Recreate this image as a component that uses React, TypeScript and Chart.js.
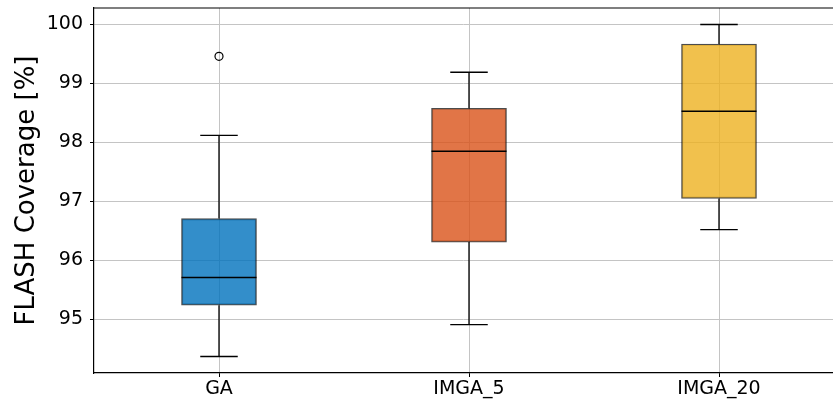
import React, { useEffect, useRef } from "react";
import { Chart, registerables } from "chart.js";

Chart.register(...registerables);

// Box-plot summary per algorithm
const categories = ["GA", "IMGA_5", "IMGA_20"];
const positions = [1, 2, 3];
const lowerWhisker = [94.37, 94.91, 96.52];
const q1 = [95.24, 96.31, 97.05];
const median = [95.71, 97.85, 98.53];
const q3 = [96.71, 98.58, 99.67];
const upperWhisker = [98.12, 99.19, 100.0];
const outlierPositions = [1];
const outlierValues = [99.46];
const yTicks = [95, 96, 97, 98, 99, 100];

const boxColors = [
  "rgba(0,114,189,0.8)",
  "rgba(217,83,25,0.8)",
  "rgba(237,177,32,0.8)",
];

const BOX_WIDTH = 0.3; // in x units
const CAP_WIDTH = 0.15;
const FONT = "'DejaVu Sans', sans-serif";

const whiskerPlugin = {
  id: "whiskers",
  afterDatasetsDraw(chart: any) {
    const { ctx } = chart;
    const x = chart.scales.x;
    const y = chart.scales.y;
    ctx.save();
    positions.forEach((p, i) => {
      const cx = x.getPixelForValue(p);
      const capL = x.getPixelForValue(p - CAP_WIDTH / 2);
      const capR = x.getPixelForValue(p + CAP_WIDTH / 2);
      const boxL = x.getPixelForValue(p - BOX_WIDTH / 2);
      const boxR = x.getPixelForValue(p + BOX_WIDTH / 2);
      ctx.strokeStyle = "#000";
      ctx.lineWidth = 1.3;
      ctx.beginPath();
      // upper whisker and cap
      ctx.moveTo(cx, y.getPixelForValue(q3[i]));
      ctx.lineTo(cx, y.getPixelForValue(upperWhisker[i]));
      ctx.moveTo(capL, y.getPixelForValue(upperWhisker[i]));
      ctx.lineTo(capR, y.getPixelForValue(upperWhisker[i]));
      // lower whisker and cap
      ctx.moveTo(cx, y.getPixelForValue(q1[i]));
      ctx.lineTo(cx, y.getPixelForValue(lowerWhisker[i]));
      ctx.moveTo(capL, y.getPixelForValue(lowerWhisker[i]));
      ctx.lineTo(capR, y.getPixelForValue(lowerWhisker[i]));
      ctx.stroke();
      // median
      ctx.lineWidth = 1.6;
      ctx.strokeStyle = "#000";
      ctx.beginPath();
      ctx.moveTo(boxL, y.getPixelForValue(median[i]));
      ctx.lineTo(boxR, y.getPixelForValue(median[i]));
      ctx.stroke();
    });
    // top frame line
    const { left, right, top } = chart.chartArea;
    ctx.strokeStyle = "#000";
    ctx.lineWidth = 1.2;
    ctx.beginPath();
    ctx.moveTo(left, top);
    ctx.lineTo(right, top);
    ctx.stroke();
    ctx.restore();
  },
};

export default function App() {
  const canvasRef = useRef<HTMLCanvasElement | null>(null);

  useEffect(() => {
    if (!canvasRef.current) return;
    const chart = new Chart(canvasRef.current, {
      type: "bar",
      data: {
        datasets: [
          {
            type: "bar",
            data: positions.map((p, i) => ({ x: p, y: [q1[i], q3[i]] })) as any,
            backgroundColor: boxColors,
            borderColor: "rgba(0,0,0,0.7)",
            borderWidth: 1.3,
            borderSkipped: false,
            barThickness: 75,
            order: 2,
          } as any,
          {
            type: "scatter",
            data: outlierPositions.map((p, i) => ({ x: p, y: outlierValues[i] })),
            pointStyle: "circle",
            pointRadius: 4,
            borderColor: "#000",
            borderWidth: 1.2,
            backgroundColor: "rgba(0,0,0,0)",
            order: 1,
          } as any,
        ],
      },
      options: {
        animation: false,
        responsive: false,
        layout: { autoPadding: false, padding: { top: 8, right: 0, bottom: 0, left: 0 } },
        plugins: {
          legend: { display: false },
          tooltip: { enabled: false },
        },
        scales: {
          x: {
            type: "linear",
            offset: false,
            min: 0.5,
            max: 0.5 + 739 / 250,
            afterBuildTicks: (scale: any) => {
              scale.ticks = positions.map((v) => ({ value: v }));
            },
            afterFit: (scale: any) => {
              scale.height = 32;
              scale.paddingLeft = 0;
              scale.paddingRight = 0;
            },
            ticks: {
              callback: (v: any) => categories[positions.indexOf(Number(v))] ?? "",
              color: "#000",
              font: { family: FONT, size: 19 },
              padding: 1,
              maxRotation: 0,
              autoSkip: false,
            },
            grid: {
              offset: false,
              color: "#c4c4c4",
              lineWidth: 1,
              tickLength: 4,
              tickColor: "#000",
            },
            border: { display: true, color: "#000", width: 1.2 },
          },
          y: {
            type: "linear",
            min: 94.09,
            max: 100.28,
            afterBuildTicks: (scale: any) => {
              scale.ticks = yTicks.map((v) => ({ value: v }));
            },
            afterFit: (scale: any) => {
              scale.width = 94;
              scale.paddingTop = 0;
              scale.paddingBottom = 0;
            },
            ticks: {
              color: "#000",
              font: { family: FONT, size: 19 },
              padding: 7,
            },
            grid: {
              color: "#c4c4c4",
              lineWidth: 1,
              tickLength: 4,
              tickColor: "#000",
            },
            border: { display: true, color: "#000", width: 1.2 },
            title: {
              display: true,
              text: "FLASH Coverage [%]",
              color: "#000",
              font: { family: FONT, size: 26 },
              padding: { top: 12, bottom: 0 },
            },
          },
        },
      } as any,
      plugins: [whiskerPlugin],
    });
    return () => chart.destroy();
  }, []);

  return (
    <div style={{ position: "fixed", left: 0, top: 0, width: 833, height: 405, background: "#fff" }}>
      <canvas ref={canvasRef} width={833} height={405} style={{ display: "block" }} />
    </div>
  );
}
